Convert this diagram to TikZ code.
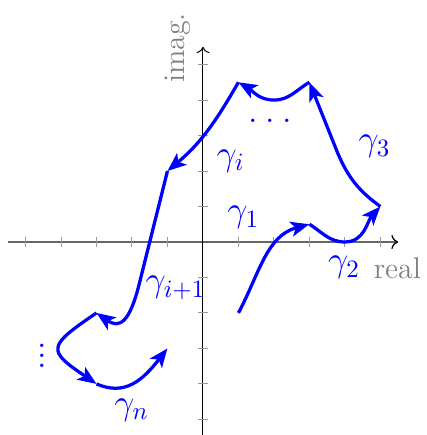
\documentclass[tikz,border=0pt]{standalone}
\usetikzlibrary{arrows.meta}
\begin{document}
\begin{tikzpicture}[x=0.5cm,y=0.5cm, font=\fontsize{12}{14.4}\selectfont,
  curve/.style={blue, line width=1.3pt, -{Stealth[length=7.5pt,width=6pt,inset=1.8pt]}},
  lbl/.style={blue, inner sep=0pt, font=\fontsize{14}{17}\selectfont},
  axlbl/.style={gray, inner sep=0pt},
  tickmark/.style={black!40, line width=0.4pt}]
\useasboundingbox (-5.72,-5.44) rectangle (6.31,6.82);
% axes
\coordinate (xs) at (-5.5,0);
\coordinate (xe) at (5.5,0);
\coordinate (ys) at (0,-5.5);
\coordinate (ye) at (0,5.5);
\draw[black!60, line width=0.5pt, -{To[black]}] (xs) -- (xe);
\draw[black, line width=0.4pt, -{To}] (ys) -- (ye);
\foreach \i in {-5,...,-1,1,2,...,5} {
  \draw[tickmark] (\i,-0.14) -- (\i,0.14);
  \draw[tickmark] (-0.14,\i) -- (0.14,\i);
}
\node[axlbl, anchor=base] (real) at (5.48,-1.02) {real};
\node[axlbl, anchor=base, rotate=90] (imag) at (-0.52,5.47) {imag.};
% points
\coordinate (A) at (1,-2);
\coordinate (B) at (3,0.5);
\coordinate (C) at (5,1);
\coordinate (D) at (3,4.5);
\coordinate (E) at (1,4.5);
\coordinate (F) at (-1,2);
\coordinate (G) at (-3,-2);
\coordinate (H) at (-3,-4);
\coordinate (I) at (-1,-3);
% curves
\draw[curve] (A) to[out=62,in=195] (B);
\draw[curve] (B) to[out=-32,in=180] (4,0) to[out=0,in=-132] (C);
\draw[curve] (C) .. controls (4.45,1.4) and (4.12,1.75) .. (3.8,2.5) -- (D);
\draw[curve] (D) to[out=-150,in=0] (2,4) to[out=180,in=-30] (E);
\draw[curve] (E) to[out=-120,in=40] (F);
\draw[curve] (F) -- (-1.8,-1.2) .. controls (-2.07,-2.27) and (-2.35,-2.45) .. (G);
\draw[curve] (G) .. controls (-4.4,-2.95) and (-4.4,-3.05) .. (H);
\draw[curve] (H) .. controls (-2.2,-4.35) and (-1.7,-3.9) .. (I);
% labels
\node[lbl] (g1) at (1.14,0.69) {$\gamma_1$};
\node[lbl] (g2) at (3.98,-0.72) {$\gamma_2$};
\node[lbl] (g3) at (4.84,2.69) {$\gamma_3$};
\node[lbl] (gi) at (0.78,2.28) {$\gamma_i$};
\node[lbl] (gi1) at (-0.77,-1.29) {$\gamma_{i+1}$};
\node[lbl] (gn) at (-2.01,-4.73) {$\gamma_n$};
\node[lbl] (hd) at (1.9,3.41) {.\kern3.1pt.\kern3.1pt.};
\node[lbl, anchor=base] (vd) at (-4.52,-3.55) {$\vdots$};
\end{tikzpicture}
\end{document}
